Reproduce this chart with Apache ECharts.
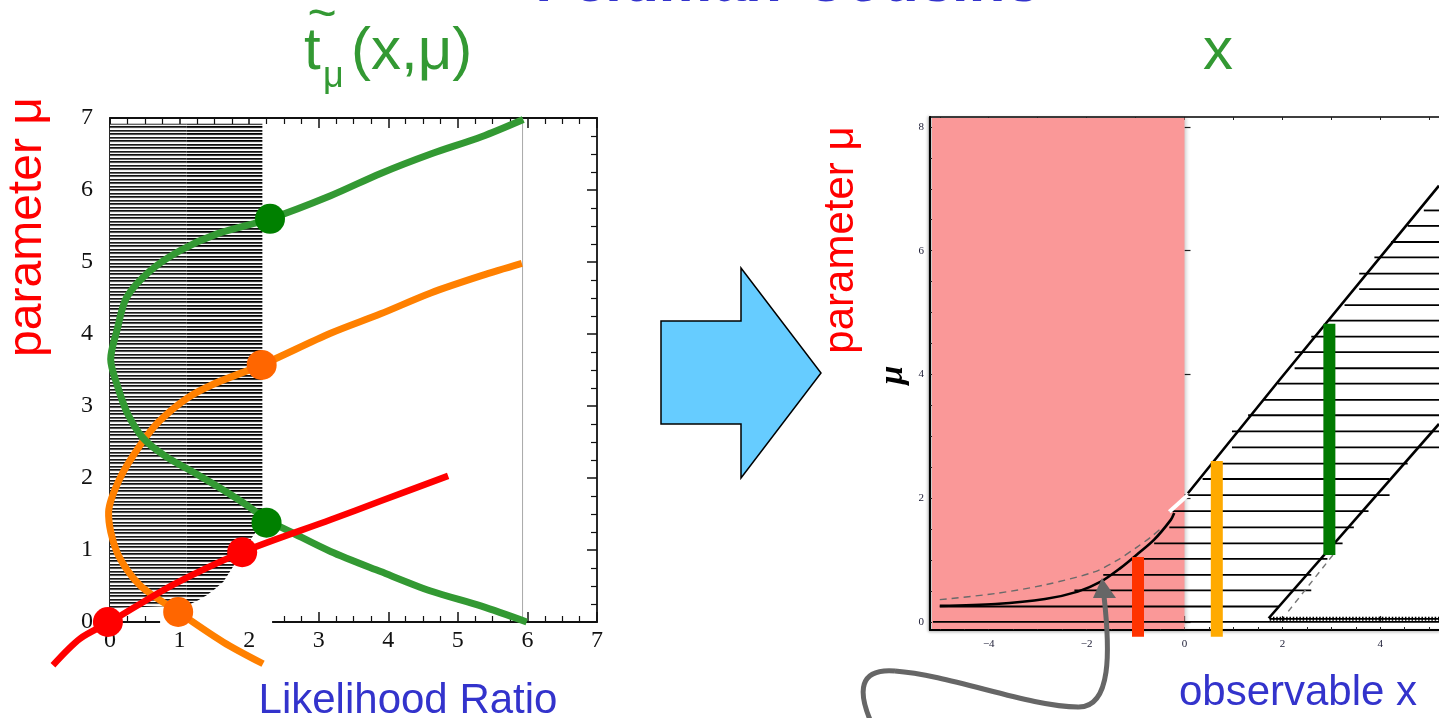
<!DOCTYPE html>
<html>
<head>
<meta charset="utf-8">
<script src="https://cdn.jsdelivr.net/npm/echarts@6.0.0/dist/echarts.min.js"></script>
<style>html,body{margin:0;padding:0;background:#fff;overflow:hidden}#c{width:1439px;height:718px}</style>
</head>
<body>
<div id="c"></div>
<script>
// ---------------- LEFT PANEL: likelihood-ratio curves (x = t, y = mu) ----------------
const leftXTicks = [0, 1, 2, 3, 4, 5, 6, 7];
const leftYTicks = [0, 1, 2, 3, 4, 5, 6, 7];

const greenX = [5.94, 5.34, 4.61, 3.89, 3.17, 2.30, 1.54, 1.01, 0.58, 0.24, 0.10, 0.01, 0.10, 0.25, 0.48, 0.80, 1.20, 1.60, 2.00, 2.25, 2.60, 3.17, 3.89, 4.61, 5.34, 5.99];
const greenY = [6.98, 6.74, 6.50, 6.23, 5.92, 5.60, 5.39, 5.16, 4.88, 4.51, 4.05, 3.65, 3.30, 2.90, 2.55, 2.30, 2.08, 1.85, 1.60, 1.42, 1.25, 0.98, 0.70, 0.43, 0.22, 0.00];

const orangeX = [5.92, 5.34, 4.61, 3.89, 3.17, 2.18, 1.50, 1.11, 0.70, 0.43, 0.14, -0.02, 0.10, 0.43, 0.98, 1.63, 2.20];
const orangeY = [4.98, 4.81, 4.57, 4.28, 4.01, 3.57, 3.31, 3.11, 2.78, 2.45, 1.99, 1.53, 0.97, 0.51, 0.14, -0.28, -0.58];

const redX = [-0.82, -0.43, 0.00, 0.91, 1.90, 3.17, 3.89, 4.86];
const redY = [-0.60, -0.23, 0.00, 0.52, 0.97, 1.42, 1.68, 2.03];

const greenDotX = [2.30, 2.25];
const greenDotY = [5.60, 1.38];
const orangeDotX = [2.18, 0.98];
const orangeDotY = [3.57, 0.14];
const redDotX = [-0.03, 1.90];
const redDotY = [0.00, 0.97];

// accepted (shaded) region of t, split in a lighter and a darker part
const hatchLightX = [0.00, 1.10, 1.10, 0.00];
const hatchLightY = [6.92, 6.92, 0.23, 0.19];
const hatchDarkX = [1.10, 2.19, 2.19, 2.13, 2.06, 1.97, 1.87, 1.75, 1.63, 1.50, 1.39, 1.25, 1.10];
const hatchDarkY = [6.92, 6.92, 1.39, 1.30, 1.20, 1.07, 0.93, 0.74, 0.56, 0.45, 0.37, 0.29, 0.23];
const maskX = [0.72, 2.33];
const maskY = [-0.05, 0.16];
const refLineX = [5.93, 5.93];
const refLineY = [0, 7];

// ---------------- RIGHT PANEL: confidence belt (x = observable, y = mu) ----------------
const rightXLabels = [-4, -2, 0, 2, 4];
const rightXMinor = [-5, -4.5, -4, -3.5, -3, -2.5, -2, -1.5, -1, -0.5, 0, 0.5, 1, 1.5, 2, 2.5, 3, 3.5, 4, 4.5, 5];
const rightXTop = [-5, -4, -3, -2, -1, 0, 1, 2, 3, 4, 5];
const rightYLabels = [0, 2, 4, 6, 8];
const rightYMinor = [0, 0.5, 1, 1.5, 2, 2.5, 3, 3.5, 4, 4.5, 5, 5.5, 6, 6.5, 7, 7.5, 8];

const pinkX = [-5.2, 0];

const beltMu = [0.00, 0.25, 0.51, 0.76, 1.02, 1.27, 1.53, 1.79, 2.05, 2.31, 2.56, 2.82, 3.08, 3.34, 3.59, 3.85, 4.10, 4.36, 4.61, 4.87, 5.12, 5.38, 5.63, 5.89, 6.14, 6.40, 6.65];
const beltXL = [-5.14, -5.00, -2.25, -1.66, -1.04, -0.62, -0.31, -0.31, 0.00, 0.37, 0.62, 0.97, 0.97, 1.30, 1.62, 1.91, 2.25, 2.25, 2.59, 2.93, 3.27, 3.57, 3.57, 3.88, 4.22, 4.56, 4.89];
const beltXR = [5.20, 1.92, 2.59, 2.59, 2.92, 3.23, 3.46, 3.76, 4.19, 4.19, 4.56, 5.20, 5.20, 5.20, 5.20, 5.20, 5.20, 5.20, 5.20, 5.20, 5.20, 5.20, 5.20, 5.20, 5.20, 5.20, 5.20];

const lowCurveX = [-5.00, -3.86, -2.85, -2.18, -1.71, -1.31, -0.97, -0.62, -0.28, -0.21];
const lowCurveY = [0.26, 0.29, 0.37, 0.49, 0.65, 0.87, 1.09, 1.33, 1.65, 1.76];
const lowLineX = [0.07, 1.94, 5.20];
const lowLineY = [2.08, 3.91, 7.05];
const notchX = [-0.31, 0.07];
const notchY = [1.78, 2.05];
const dashCurveX = [-5.00, -3.86, -2.85, -1.84, -1.37, -0.97, -0.69, -0.50];
const dashCurveY = [0.36, 0.46, 0.60, 0.81, 1.00, 1.21, 1.37, 1.50];
const highLineX = [1.72, 5.20];
const highLineY = [0.06, 3.20];
const highDashX = [2.12, 3.06];
const highDashY = [0.17, 1.11];
const floorX = [1.74, 5.20];
const floorY = [0.05, 0.05];

const barX = [-0.95, 0.66, 2.96];
const barLow = [-0.24, -0.24, 1.08];
const barHigh = [1.05, 2.60, 4.82];
const barColors = ['#FF3300', '#FFAA00', '#007A00'];

const R_XMIN = -5.2, R_XMAX = 5.2, R_YMIN = -0.13, R_YMAX = 8.16;

// ---------------- helpers ----------------
function xy(xs, ys) { return xs.map(function (x, i) { return [x, ys[i]]; }); }
function stripes(rows) {
  const c = document.createElement('canvas');
  c.width = 8; c.height = rows.length;
  const ctx = c.getContext('2d');
  rows.forEach(function (col, i) { ctx.fillStyle = col; ctx.fillRect(0, i, 8, 1); });
  return c;
}
const patDark = stripes(['#000', '#333', '#e6e6e6', '#fff', '#111', '#444', '#f4f4f4']);
const patLight = stripes(['#111', '#555', '#ececec', '#fff', '#1a1a1a', '#666', '#f6f6f6']);

function polySeries(xs, ys, fill, z) {
  return {
    type: 'custom', xAxisIndex: 0, yAxisIndex: 0, z: z, silent: true, clip: false,
    data: [[xs[0], ys[0]]],
    renderItem: function (p, api) {
      const pts = xs.map(function (x, i) { return api.coord([x, ys[i]]); });
      return { type: 'polygon', shape: { points: pts }, style: { fill: fill, stroke: null } };
    }
  };
}
// curve drawn through the axis scales as one smooth polyline (may leave the plot frame)
function curveS(xs, ys, color, width, z) {
  return {
    type: 'custom', xAxisIndex: 0, yAxisIndex: 0, z: z, silent: true, clip: false,
    data: [[xs[0], ys[0]]],
    renderItem: function (p, api) {
      const pts = xs.map(function (x, i) { return api.coord([x, ys[i]]); });
      return { type: 'polyline', shape: { points: pts, smooth: 0.3 }, style: { stroke: color, lineWidth: width, fill: null, lineCap: 'butt', lineJoin: 'round' } };
    }
  };
}
function lineS(xs, ys, color, width, opts) {
  const s = {
    type: 'line', data: xy(xs, ys), symbol: 'none', clip: false, silent: true,
    lineStyle: { color: color, width: width, cap: 'butt' }, z: 4
  };
  return Object.assign(s, opts || {});
}
function dotS(xs, ys, color) {
  return { type: 'scatter', xAxisIndex: 0, yAxisIndex: 0, data: xy(xs, ys), symbolSize: 30,
    itemStyle: { color: color, opacity: 1 }, z: 6, clip: false, silent: true };
}
const minus = function (v) { return v < 0 ? '\u2212' + Math.abs(v) : String(v); };

const serifL = { fontFamily: 'Liberation Serif', fontSize: 24, color: '#111' };
const tickStyleL = { color: '#111', width: 1.5 };

function leftAxis(kind, pos, showLabel) {
  return {
    type: 'value', gridIndex: 0, position: pos, min: 0, max: 7, interval: 1,
    axisLine: { show: true, onZero: false, lineStyle: { color: '#111', width: 1.8 } },
    axisTick: { show: true, inside: true, length: 10, lineStyle: tickStyleL },
    minorTick: { show: true, splitNumber: 4, length: 6, lineStyle: { color: '#111', width: 1.2 } },
    axisLabel: showLabel ? Object.assign({ show: true, customValues: kind === 'x' ? leftXTicks : leftYTicks, margin: kind === 'x' ? 7 : 17 }, serifL) : { show: false },
    splitLine: { show: false }, minorSplitLine: { show: false }
  };
}

const smallSerif = { fontFamily: 'Liberation Serif', fontSize: 11, color: '#1a1a33' };
function txt(x, y, text, font, fill, align, rot) {
  return { type: 'text', x: x, y: y, rotation: rot || 0, silent: true, z: 50,
    style: { x: 0, y: 0, text: text, font: font, fill: fill, textAlign: align, align: align, textVerticalAlign: 'middle', verticalAlign: 'middle' } };
}

const option = {
  animation: false,
  backgroundColor: '#fff',
  grid: [
    { left: 110, top: 118, width: 487, height: 504 },
    { left: 930, top: 117, width: 516, height: 513 },
    { left: 930, top: 117, width: 516, height: 513 }
  ],
  xAxis: [
    leftAxis('x', 'bottom', true),
    leftAxis('x', 'top', false),
    { type: 'value', gridIndex: 1, position: 'bottom', min: R_XMIN, max: R_XMAX,
      axisLine: { show: true, onZero: false, lineStyle: { color: '#000', width: 2.2, shadowColor: 'rgba(0,0,0,0.35)', shadowBlur: 3, shadowOffsetY: 1 } },
      axisTick: { show: true, inside: true, length: 3, customValues: rightXMinor, lineStyle: { color: '#222', width: 1 } },
      axisLabel: Object.assign({ show: true, customValues: rightXLabels, margin: 9, formatter: minus }, smallSerif),
      splitLine: { show: false } },
    { type: 'value', gridIndex: 1, position: 'top', min: R_XMIN, max: R_XMAX,
      axisLine: { show: true, onZero: false, lineStyle: { color: '#000', width: 1.6 } },
      axisTick: { show: true, inside: true, length: 3, customValues: rightXTop, lineStyle: { color: '#222', width: 1 } },
      axisLabel: { show: false }, splitLine: { show: false } },
    { type: 'value', gridIndex: 2, position: 'bottom', min: R_XMIN, max: R_XMAX,
      axisLine: { show: false },
      axisTick: { show: true, inside: true, length: 6, customValues: rightXLabels, lineStyle: { color: '#222', width: 1.2 } },
      axisLabel: { show: false }, splitLine: { show: false } }
  ],
  yAxis: [
    leftAxis('y', 'left', true),
    leftAxis('y', 'right', false),
    { type: 'value', gridIndex: 1, position: 'left', min: R_YMIN, max: R_YMAX,
      axisLine: { show: true, onZero: false, lineStyle: { color: '#000', width: 2.2, shadowColor: 'rgba(0,0,0,0.35)', shadowBlur: 3, shadowOffsetX: -1 } },
      axisTick: { show: true, inside: true, length: 3, customValues: rightYMinor, lineStyle: { color: '#222', width: 1 } },
      axisLabel: Object.assign({ show: true, customValues: rightYLabels, margin: 6 }, smallSerif),
      splitLine: { show: false } },
    { type: 'value', gridIndex: 2, position: 'left', min: R_YMIN, max: R_YMAX,
      axisLine: { show: false },
      axisTick: { show: true, inside: true, length: 6, customValues: rightYLabels, lineStyle: { color: '#222', width: 1.2 } },
      axisLabel: { show: false }, splitLine: { show: false } }
  ],
  series: [
    // ---- left panel ----
    polySeries(hatchLightX, hatchLightY, { image: patLight, repeat: 'repeat' }, 2),
    polySeries(hatchDarkX, hatchDarkY, { image: patDark, repeat: 'repeat' }, 2),
    polySeries([maskX[0], maskX[1], maskX[1], maskX[0]], [maskY[0], maskY[0], maskY[1], maskY[1]], '#fff', 2),
    lineS(refLineX, refLineY, '#a8a8a8', 1, { xAxisIndex: 0, yAxisIndex: 0, z: 3 }),
    curveS(orangeX, orangeY, '#FF8000', 7, 4),
    curveS(greenX, greenY, '#339933', 7, 4),
    curveS(redX, redY, '#FF0000', 6.5, 4),
    dotS(greenDotX, greenDotY, '#008000'),
    dotS(orangeDotX, orangeDotY, '#FF6600'),
    dotS(redDotX, redDotY, '#FF0000'),
    // ---- right panel ----
    { type: 'custom', xAxisIndex: 2, yAxisIndex: 2, z: 1, silent: true, clip: false,
      data: [[pinkX[0], 0, pinkX[1]]],
      renderItem: function (p, api) {
        const a = api.coord([api.value(0), R_YMAX]);
        const b = api.coord([api.value(2), R_YMIN]);
        return { type: 'rect', shape: { x: a[0] + 2, y: a[1] + 1, width: b[0] - a[0] - 2, height: b[1] - a[1] - 2 },
          style: { fill: '#FA9898', shadowColor: 'rgba(0,0,0,0.22)', shadowBlur: 4, shadowOffsetX: 1 } };
      } },
    { type: 'custom', xAxisIndex: 2, yAxisIndex: 2, z: 3, silent: true, clip: false,
      data: beltMu.map(function (m, i) { return [beltXL[i], m, beltXR[i]]; }),
      renderItem: function (p, api) {
        const a = api.coord([api.value(0), api.value(1)]);
        const b = api.coord([api.value(2), api.value(1)]);
        return { type: 'line', shape: { x1: a[0], y1: a[1], x2: b[0], y2: b[1] }, style: { stroke: '#000', lineWidth: 1.8 } };
      } },
    lineS(dashCurveX, dashCurveY, '#6a6a6a', 1.4, { xAxisIndex: 2, yAxisIndex: 2, smooth: 0.3, lineStyle: { color: '#6a6a6a', width: 1.4, type: [7, 5] } }),
    lineS(lowCurveX, lowCurveY, '#000', 2.6, { xAxisIndex: 2, yAxisIndex: 2, smooth: 0.3 }),
    lineS(notchX, notchY, '#fff', 4, { xAxisIndex: 2, yAxisIndex: 2 }),
    lineS(lowLineX, lowLineY, '#000', 2.6, { xAxisIndex: 2, yAxisIndex: 2 }),
    lineS(highLineX, highLineY, '#000', 2.6, { xAxisIndex: 2, yAxisIndex: 2 }),
    lineS(highDashX, highDashY, '#777', 1.4, { xAxisIndex: 2, yAxisIndex: 2, lineStyle: { color: '#777', width: 1.4, type: [6, 5] } }),
    lineS(floorX, floorY, '#000', 1.6, { xAxisIndex: 2, yAxisIndex: 2 }),
    lineS(floorX, floorY, '#000', 4, { xAxisIndex: 2, yAxisIndex: 2, lineStyle: { color: '#000', width: 4, type: [1.5, 1.8] } }),
    { type: 'custom', xAxisIndex: 2, yAxisIndex: 2, z: 7, silent: true, clip: false,
      data: barX.map(function (x, i) { return [x, barLow[i], barHigh[i]]; }),
      renderItem: function (p, api) {
        const lo = api.coord([api.value(0), api.value(1)]);
        const hi = api.coord([api.value(0), api.value(2)]);
        const w = 12;
        return { type: 'rect', shape: { x: lo[0] - w / 2, y: hi[1], width: w, height: lo[1] - hi[1] }, style: { fill: barColors[p.dataIndex] } };
      } }
  ],
  graphic: [
    txt(790, -16, 'Feldman-Cousins', 'italic bold 60px "Liberation Sans"', '#3333CC', 'center'),
    txt(304, 52, 't', '60px "Liberation Sans"', '#339933', 'left'),
    txt(322, 16, '~', '50px "Liberation Sans"', '#339933', 'center'),
    txt(323, 77, 'μ', '36px "Liberation Sans"', '#339933', 'left'),
    txt(351, 52, '(x,μ)', '60px "Liberation Sans"', '#339933', 'left'),
    txt(1218, 52, 'x', '60px "Liberation Sans"', '#339933', 'center'),
    txt(28, 227, 'parameter μ', '48px "Liberation Sans"', '#FF0000', 'center', Math.PI / 2),
    txt(841, 240, 'parameter μ', '42px "Liberation Sans"', '#FF0000', 'center', Math.PI / 2),
    txt(893, 375, 'μ', 'italic bold 34px "Liberation Serif"', '#000', 'center', Math.PI / 2),
    txt(408, 701, 'Likelihood Ratio', '42px "Liberation Sans"', '#3333CC', 'center'),
    txt(1298, 693, 'observable x', '42px "Liberation Sans"', '#3333CC', 'center'),
    { type: 'polygon', silent: true, shape: { points: [[661, 321], [741, 321], [741, 268], [821, 373], [741, 478], [741, 424], [661, 424]] }, style: { fill: '#66CCFF', stroke: '#000', lineWidth: 1.5 } },
    { type: 'bezierCurve', silent: true, z: 100, shape: { x1: 871, y1: 722, cpx1: 858, cpy1: 692, cpx2: 858, cpy2: 668, x2: 895, y2: 671 }, style: { stroke: '#666', lineWidth: 5, fill: null } },
    { type: 'bezierCurve', silent: true, z: 100, shape: { x1: 895, y1: 671, cpx1: 950, cpy1: 675, cpx2: 1030, cpy2: 707, x2: 1078, y2: 707 }, style: { stroke: '#666', lineWidth: 5, fill: null } },
    { type: 'bezierCurve', silent: true, z: 100, shape: { x1: 1078, y1: 707, cpx1: 1112, cpy1: 708, cpx2: 1110, cpy2: 650, x2: 1104, y2: 596 }, style: { stroke: '#666', lineWidth: 5, fill: null } },
    { type: 'polygon', silent: true, z: 100, shape: { points: [[1093, 598], [1116, 598], [1102, 578]] }, style: { fill: '#666' } }
  ]
};

const chart = echarts.init(document.getElementById('c'), null, { renderer: 'canvas', width: 1439, height: 718 });
chart.setOption(option);
</script>
</body>
</html>
